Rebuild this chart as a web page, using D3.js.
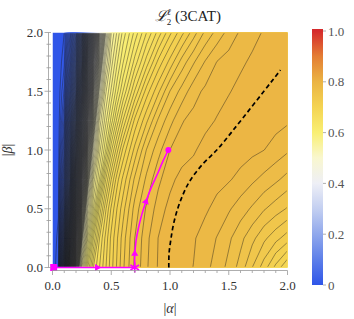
<!DOCTYPE html>
<html>
<head>
<meta charset="utf-8">
<script src="https://cdn.jsdelivr.net/npm/d3@7"></script>
<style>
  body { margin: 0; background: #fff; }
</style>
</head>
<body>
<div id="chart"></div>
<script>
// grid of |alpha| columns (finer on the left where the field is steep)
const alphaGrid = [0, 0.05, 0.1, 0.15, 0.2, 0.25, 0.3, 0.35, 0.4, 0.45, 0.5, 0.55, 0.6,
                   0.7, 0.8, 0.9, 1.0, 1.1, 1.2, 1.3, 1.4, 1.5, 1.6, 1.7, 1.8, 1.9, 2.0];
// grid of |beta| rows
const betaGrid = [0, 0.25, 0.5, 0.75, 1.0, 1.25, 1.5, 1.75, 2.0];

// values, one row per |beta| (bottom row first)
const fieldRows = [
  [0, 0.01, 0.14, 0.30, 0.44, 0.55, 0.609, 0.652, 0.670, 0.688, 0.706, 0.722, 0.738,
   0.762, 0.7785, 0.791, 0.795, 0.7935, 0.7898, 0.783, 0.776, 0.767, 0.756, 0.740, 0.725, 0.707, 0.690],
  [0, 0.007, 0.104, 0.239, 0.375, 0.489, 0.569, 0.621, 0.660, 0.682, 0.703, 0.719, 0.735,
   0.760, 0.777, 0.7902, 0.795, 0.794, 0.791, 0.786, 0.7795, 0.772, 0.763, 0.753, 0.7424, 0.7335, 0.725],
  [0, 0.004, 0.077, 0.187, 0.318, 0.44, 0.528, 0.582, 0.632, 0.667, 0.692, 0.7106, 0.726,
   0.754, 0.7716, 0.7845, 0.7936, 0.7948, 0.7935, 0.7915, 0.787, 0.7813, 0.775, 0.7685, 0.761, 0.755, 0.749],
  [0, 0.003, 0.057, 0.142, 0.2655, 0.383, 0.48, 0.554, 0.591, 0.638, 0.67, 0.6963, 0.7127,
   0.742, 0.7624, 0.7776, 0.7869, 0.7939, 0.7953, 0.7945, 0.793, 0.791, 0.787, 0.782, 0.777, 0.772, 0.7665],
  [0, 0.002, 0.0406, 0.117, 0.22, 0.332, 0.44, 0.513, 0.566, 0.598, 0.6376, 0.667, 0.6925,
   0.7234, 0.7505, 0.7663, 0.7801, 0.7844, 0.7887, 0.7939, 0.796, 0.7955, 0.7945, 0.7925, 0.7901, 0.786, 0.7815],
  [0, 0.001, 0.027, 0.097, 0.1805, 0.287, 0.389, 0.474, 0.542, 0.575, 0.604, 0.634, 0.6606,
   0.7028, 0.7279, 0.7518, 0.7665, 0.7792, 0.7833, 0.7869, 0.7908, 0.7949, 0.7963, 0.7957, 0.795, 0.7935, 0.7915],
  [0, 0.001, 0.016, 0.07, 0.135, 0.235, 0.343, 0.44, 0.503, 0.5565, 0.582, 0.607, 0.630,
   0.6708, 0.7048, 0.7276, 0.7503, 0.7637, 0.7759, 0.7822, 0.7857, 0.7892, 0.7932, 0.7958, 0.7966, 0.796, 0.795],
  [0, 0.0005, 0.009, 0.05, 0.105, 0.19, 0.30, 0.394, 0.469, 0.528, 0.5648, 0.5886, 0.609,
   0.6438, 0.6743, 0.7028, 0.7234, 0.744, 0.7587, 0.7708, 0.7803, 0.7842, 0.788, 0.7919, 0.7949, 0.7966, 0.797],
  [0, 0, 0.005, 0.035, 0.08, 0.155, 0.255, 0.35, 0.44, 0.495, 0.55, 0.5717, 0.5935,
   0.623, 0.65, 0.6738, 0.6976, 0.7167, 0.7352, 0.7522, 0.7633, 0.7736, 0.7815, 0.7865, 0.791, 0.7938, 0.7957]
];

// contour levels: fine steps in the steep low range, 0.01 steps above
const levelsLow = d3.range(1, 100).map(i => i / 200);
const levelsHigh = d3.range(50, 80).map(i => i / 100);

// colour map (value -> colour)
const colorValues = [0, 0.1, 0.2, 0.3, 0.4, 0.5, 0.6, 0.7, 0.8, 0.9, 1.0];
const colorStops = ["#2f55e8", "#5d7fe9", "#90a8ec", "#c3cff1", "#eeeff6", "#f9f7cf",
                    "#f9ef73", "#f4d452", "#ebb443", "#e47e34", "#d52a2c"];

// magenta trajectory
const pathFlat = [[0.01, 0], [0.70, 0]];
const pathUp = [[0.70, 0], [0.70, 0.10], [0.71, 0.22], [0.73, 0.33], [0.76, 0.45], [0.795, 0.56],
                [0.84, 0.68], [0.895, 0.80], [0.94, 0.905], [0.986, 1.0]];
const arrows = [{ a: 0.38, b: 0, angle: 90 }, { a: 0.70, b: 0.117, angle: 0 }, { a: 0.795, b: 0.56, angle: 18 }];
const starPt = [0.70, 0];
const endPt = [0.986, 1.0];

// black dashed curve
const dashedCurve = [[0.99, 0], [0.992, 0.12], [1.006, 0.23], [1.028, 0.36], [1.062, 0.49],
                     [1.108, 0.615], [1.156, 0.715], [1.213, 0.80], [1.284, 0.886], [1.355, 0.957],
                     [1.411, 1.014], [1.94, 1.68]];

const axisTicks = [0, 0.5, 1, 1.5, 2];
const legendTicks = [0, 0.2, 0.4, 0.6, 0.8, 1.0];

const width = 354, height = 319;
const serif = "Liberation Serif, Times New Roman, DejaVu Serif, serif";
const svg = d3.select("#chart").append("svg")
    .attr("width", width)
    .attr("height", height)
    .attr("font-family", serif);

const x = d3.scaleLinear().domain([0, 2]).range([52.5, 287.5]);
const y = d3.scaleLinear().domain([0, 2]).range([267.5, 32.5]);
const color = d3.scaleLinear().domain(colorValues).range(colorStops);

// grid index -> data coordinate
const nx = alphaGrid.length, ny = betaGrid.length;
const ia = d3.scaleLinear().domain(d3.range(nx)).range(alphaGrid).clamp(true);
const ib = d3.scaleLinear().domain(d3.range(ny)).range(betaGrid).clamp(true);

const levels = levelsLow.concat(levelsHigh);
const contours = d3.contours().size([nx, ny]).thresholds(levels)(fieldRows.flat());

const proj = d3.geoTransform({
    point(px, py) { this.stream.point(x(ia(px - 0.5)), y(ib(py - 0.5))); }
});
const geo = d3.geoPath(proj);

const defs = svg.append("defs");
defs.append("clipPath").attr("id", "plot-clip")
    .append("rect")
    .attr("x", x(0)).attr("y", y(2))
    .attr("width", x(2) - x(0)).attr("height", y(0) - y(2));
defs.append("clipPath").attr("id", "line-clip")
    .append("rect")
    .attr("x", x(0) + 0.7).attr("y", y(2) + 0.7)
    .attr("width", x(2) - x(0) - 1.4).attr("height", y(0) - y(2) - 1.4);

// filled bands
const bands = svg.append("g").attr("clip-path", "url(#plot-clip)");
bands.append("rect")
    .attr("x", x(0)).attr("y", y(2))
    .attr("width", x(2) - x(0)).attr("height", y(0) - y(2))
    .attr("fill", color(0));
bands.selectAll("path")
    .data(contours)
    .enter()
    .append("path")
    .attr("d", geo)
    .attr("fill-rule", "evenodd")
    .attr("fill", d => color(d.value + 0.004));

// contour lines
svg.append("g").attr("clip-path", "url(#line-clip)")
    .selectAll("path")
    .data(contours)
    .enter()
    .append("path")
    .attr("d", geo)
    .attr("fill", "none")
    .attr("stroke", "#1a1a1a")
    .attr("stroke-opacity", 0.55)
    .attr("stroke-width", 0.75);

// dashed curve
svg.append("path")
    .attr("d", d3.line().x(d => x(d[0])).y(d => y(d[1])).curve(d3.curveCatmullRom)(dashedCurve))
    .attr("fill", "none")
    .attr("stroke", "#000")
    .attr("stroke-width", 1.7)
    .attr("stroke-dasharray", "4.5,3");

// magenta trajectory
const magenta = "#f0f";
svg.append("path")
    .attr("d", d3.line().x(d => x(d[0])).y(d => y(d[1]))(pathFlat))
    .attr("fill", "none").attr("stroke", magenta).attr("stroke-width", 1.6);
svg.append("path")
    .attr("d", d3.line().x(d => x(d[0])).y(d => y(d[1])).curve(d3.curveCatmullRom)(pathUp))
    .attr("fill", "none").attr("stroke", magenta).attr("stroke-width", 1.6);

svg.selectAll(".arrow")
    .data(arrows)
    .enter()
    .append("path")
    .attr("class", "arrow")
    .attr("d", d3.symbol().type(d3.symbolTriangle).size(22))
    .attr("transform", d => `translate(${x(d.a)},${y(d.b)}) rotate(${d.angle})`)
    .attr("fill", magenta);

svg.append("rect")
    .attr("x", x(pathFlat[0][0]) - 3.5).attr("y", y(pathFlat[0][1]) - 3.5)
    .attr("width", 7).attr("height", 7)
    .attr("fill", magenta);

svg.append("path")
    .attr("d", d3.symbol().type(d3.symbolAsterisk).size(70))
    .attr("transform", `translate(${x(starPt[0])},${y(starPt[1])})`)
    .attr("fill", "none").attr("stroke", magenta).attr("stroke-width", 1.6);

svg.append("circle")
    .attr("cx", x(endPt[0])).attr("cy", y(endPt[1])).attr("r", 3)
    .attr("fill", magenta);

// axes
const axisColor = "#999";
const minor = d3.range(0, 21).map(i => i / 10);
const gAx = svg.append("g");
gAx.append("line")
    .attr("x1", x(0)).attr("x2", x(2)).attr("y1", 270.5).attr("y2", 270.5)
    .attr("stroke", axisColor).attr("stroke-width", 0.8);
gAx.selectAll(".xt").data(minor).enter().append("line")
    .attr("x1", d => x(d)).attr("x2", d => x(d))
    .attr("y1", 270.5).attr("y2", d => axisTicks.includes(d) ? 275 : 273)
    .attr("stroke", axisColor).attr("stroke-width", 0.8);
gAx.append("line")
    .attr("x1", 48.5).attr("x2", 48.5).attr("y1", y(0)).attr("y2", y(2))
    .attr("stroke", axisColor).attr("stroke-width", 0.8);
gAx.selectAll(".yt").data(minor).enter().append("line")
    .attr("x1", d => axisTicks.includes(d) ? 44.5 : 46.5).attr("x2", 51)
    .attr("y1", d => y(d)).attr("y2", d => y(d))
    .attr("stroke", axisColor).attr("stroke-width", 0.8);

const fmt = d3.format(".1f");
gAx.selectAll(".xl").data(axisTicks).enter().append("text")
    .attr("x", d => x(d)).attr("y", 290)
    .attr("text-anchor", "middle")
    .attr("font-family", serif)
    .style("font-size", "13px").style("fill", "#333")
    .text(fmt);
gAx.selectAll(".yl").data(axisTicks).enter().append("text")
    .attr("x", 43).attr("y", d => y(d) + 4.5)
    .attr("text-anchor", "end")
    .attr("font-family", serif)
    .style("font-size", "13px").style("fill", "#333")
    .text(fmt);

// axis titles
const xt = svg.append("text").attr("x", x(1)).attr("y", 313)
    .attr("text-anchor", "middle").attr("font-family", serif)
    .style("font-size", "14px").style("fill", "#333");
xt.append("tspan").text("|");
xt.append("tspan").style("font-style", "italic").text("α");
xt.append("tspan").text("|");
const yt = svg.append("text")
    .attr("transform", `translate(12,${y(1)}) rotate(-90)`)
    .attr("text-anchor", "middle").attr("font-family", serif)
    .style("font-size", "14px").style("fill", "#333");
yt.append("tspan").text("|");
yt.append("tspan").style("font-style", "italic").text("β");
yt.append("tspan").text("|");

// title
const title = svg.append("text").attr("x", 188).attr("y", 21)
    .attr("text-anchor", "middle").attr("font-family", serif)
    .style("font-size", "15px").style("fill", "#222");
title.append("tspan").style("font-style", "italic").text("ℒ");
title.append("tspan").attr("dy", -6).style("font-size", "9px").style("font-style", "italic").text("ℓ");
title.append("tspan").attr("dx", -4).attr("dy", 10).style("font-size", "9px").text("2");
title.append("tspan").attr("dy", -4).text(" (3CAT)");

// colour legend
const cb = d3.scaleLinear().domain([0, 1]).range([285, 31]);
const grad = defs.append("linearGradient")
    .attr("id", "cb-grad")
    .attr("gradientUnits", "userSpaceOnUse")
    .attr("x1", 0).attr("y1", cb(0)).attr("x2", 0).attr("y2", cb(1));
colorValues.forEach(v => {
    grad.append("stop").attr("offset", v).attr("stop-color", color(v));
});
svg.append("rect")
    .attr("x", 312).attr("y", cb(1) - 2)
    .attr("width", 11).attr("height", cb(0) - cb(1) + 2)
    .attr("fill", "url(#cb-grad)");
svg.selectAll(".cbt").data(legendTicks).enter().append("line")
    .attr("x1", 323).attr("x2", 326)
    .attr("y1", d => cb(d)).attr("y2", d => cb(d))
    .attr("stroke", axisColor).attr("stroke-width", 0.8);
svg.selectAll(".cbl").data(legendTicks).enter().append("text")
    .attr("x", 328).attr("y", d => cb(d) + 4.5)
    .attr("font-family", serif)
    .style("font-size", "13px").style("fill", "#555")
    .text(d => d === 0 ? "0" : fmt(d));
</script>
</body>
</html>
